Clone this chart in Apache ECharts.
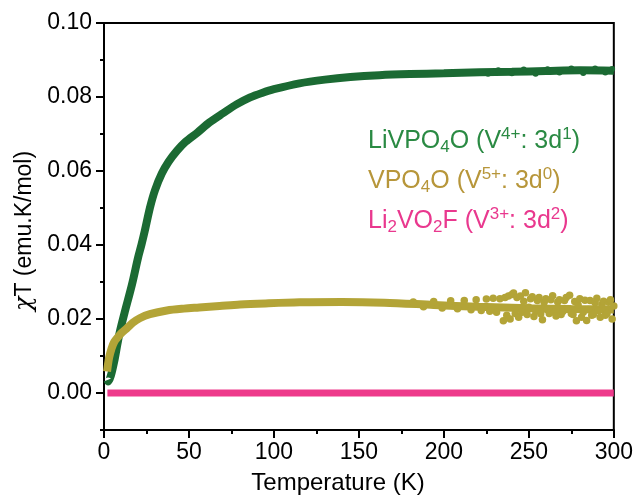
<!DOCTYPE html>
<html>
<head>
<meta charset="utf-8">
<script src="https://cdn.jsdelivr.net/npm/echarts@6/dist/echarts.min.js"></script>
<style>html,body{margin:0;padding:0;background:#fff;}#c{width:636px;height:500px;}</style>
</head>
<body>
<div id="c"></div>
<script>
// ---- data ----
var xTicks = [0, 50, 100, 150, 200, 250, 300];
var yTicks = [0.00, 0.02, 0.04, 0.06, 0.08, 0.10];

// LiVPO4O (V4+: 3d1)  [T (K), chiT]
var liVPO4O = [
  [2,0.0035],[2.5,0.0031],[4,0.0046],[6,0.0085],[8,0.0135],[9.4,0.0167],[12,0.0215],
  [16.5,0.0294],[20,0.0365],[22,0.0400],[24,0.0438],[27,0.0500],[30,0.0548],[34,0.0593],
  [38,0.0625],[43,0.0655],[48,0.0679],[55,0.0704],[62,0.0731],[70,0.0756],[78,0.0780],
  [86,0.0799],[93,0.0811],[100,0.0821],[115,0.0837],[130,0.0847],[145,0.0854],[162,0.0859],
  [180,0.0862],[200,0.0864],[221,0.0867],[240,0.0868],[260,0.0870],[280,0.0872],[300,0.0871]
];
var liVPO4ONoise = [
  [226,0.0863],[232,0.0872],[240,0.0864],[247,0.0874],[254,0.0863],[261,0.0875],
  [268,0.0866],[275,0.0877],[282,0.0865],[289,0.0877],[295,0.0866],[299,0.0876]
];

// VPO4O (V5+: 3d0)
var vPO4O = [
  [1.8,0.0058],[3,0.0095],[4.5,0.0121],[6,0.0138],[8,0.0150],[10.5,0.0163],[13.5,0.0175],
  [17,0.0190],[21,0.0202],[27,0.0213],[37,0.0223],[47,0.0228],[56,0.0231],[68,0.0235],
  [80,0.0239],[95,0.0242],[115,0.0245],[140,0.0246],[165,0.0244],[194,0.0238],
  [220,0.0233],[250,0.0229],[275,0.0227],[300,0.0226]
];
var vPO4ONoise = [
  [182,0.0246],[188,0.0233],[194,0.0247],[199,0.0230],[204,0.0249],[208,0.0228],[212,0.0250],
  [216,0.0225],[219,0.0252],[222,0.0223],[225,0.0254],[227,0.0221],[229,0.0256],[231,0.0218],
  [233,0.0255],[235,0.0195],[236,0.0258],[237,0.0210],[238,0.0262],[239,0.0200],[240,0.0266],
  [241,0.0270],[242,0.0215],[243,0.0258],[244,0.0205],[245,0.0262],[246,0.0218],[247,0.0248],
  [248,0.0271],[249,0.0212],[250,0.0232],[251,0.0255],[252,0.0260],[253,0.0207],[254,0.0222],
  [255,0.0250],[256,0.0258],[257,0.0214],[258,0.0198],[259,0.0245],[260,0.0255],[261,0.0225],
  [262,0.0215],[263,0.0252],[264,0.0263],[265,0.0218],[266,0.0208],[267,0.0246],[268,0.0252],
  [269,0.0212],[270,0.0220],[271,0.0250],[272,0.0258],[273,0.0228],[274,0.0264],[275,0.0215],
  [276,0.0212],[277,0.0247],[278,0.0195],[279,0.0238],[280,0.0255],[281,0.0205],[282,0.0218],
  [283,0.0251],[284,0.0196],[285,0.0226],[286,0.0250],[287,0.0210],[288,0.0212],[289,0.0244],
  [290,0.0256],[291,0.0222],[292,0.0205],[293,0.0240],[294,0.0248],[295,0.0210],[296,0.0215],
  [297,0.0245],[298,0.0252],[299,0.0200],[300,0.0235]
];

// Li2VO2F (V3+: 3d2)
var li2VO2F = [[2,0],[50,0],[100,0],[150,0],[200,0],[250,0],[300,0]];

// ---- chart ----
var FONT = 'Liberation Sans, Arial, sans-serif';
var GREEN = '#1b6a33', OLIVE = '#b3a437', PINK = '#ee3a8b';
var chart = echarts.init(document.getElementById('c'), null, {renderer: 'canvas'});

function legendRich(color) {
  return {
    n: {fontSize: 25, fontFamily: FONT, fill: color, lineHeight: 30},
    sup: {fontSize: 17, fontFamily: FONT, fill: color, lineHeight: 17, verticalAlign: 'top'},
    sub: {fontSize: 17, fontFamily: FONT, fill: color, lineHeight: 16, verticalAlign: 'bottom'}
  };
}

var option = {
  backgroundColor: '#fff',
  animation: false,
  grid: {left: 104, right: 22, top: 23, bottom: 70, show: true, borderColor: '#000', borderWidth: 2, backgroundColor: 'transparent'},
  xAxis: {
    type: 'value', min: 0, max: 300, interval: 50,
    axisLine: {show: true, onZero: false, lineStyle: {color: '#000', width: 2}},
    axisTick: {show: true, inside: false, length: 8, lineStyle: {color: '#000', width: 2}},
    minorTick: {show: true, splitNumber: 2, length: 4, lineStyle: {color: '#000', width: 2}},
    splitLine: {show: false},
    axisLabel: {fontSize: 23, fontFamily: FONT, color: '#000', margin: 11,
      customValues: xTicks, formatter: function (v) { return String(Math.round(v)); }}
  },
  yAxis: [{
    type: 'value', min: -0.01, max: 0.10,
    axisLine: {show: true, onZero: false, lineStyle: {color: '#000', width: 2}},
    axisTick: {show: true, inside: false, length: 8, customValues: yTicks, lineStyle: {color: '#000', width: 2}},
    splitLine: {show: false},
    axisLabel: {fontSize: 23, fontFamily: FONT, color: '#000', margin: 12,
      customValues: yTicks, formatter: function (v) { return (Math.round(v * 100) / 100).toFixed(2); }}
  }, {
    type: 'value', min: -0.01, max: 0.10, interval: 0.01, position: 'left',
    axisLine: {show: false},
    axisTick: {show: true, inside: false, length: 4, lineStyle: {color: '#000', width: 2}},
    splitLine: {show: false},
    axisLabel: {show: false}
  }],
  series: [
    {name: 'Li2VO2F', type: 'line', data: li2VO2F, showSymbol: false, symbol: 'none',
      lineStyle: {color: PINK, width: 7}, z: 2},
    {name: 'LiVPO4O', type: 'line', data: liVPO4O, showSymbol: false, symbol: 'none', smooth: 0.3,
      lineStyle: {color: GREEN, width: 8}, z: 3},
    {name: 'LiVPO4O noise', type: 'scatter', data: liVPO4ONoise, symbolSize: 6,
      itemStyle: {color: GREEN, opacity: 1}, z: 3},
    {name: 'VPO4O', type: 'line', data: vPO4O, showSymbol: false, symbol: 'none', smooth: 0.3,
      lineStyle: {color: OLIVE, width: 8}, z: 4},
    {name: 'VPO4O noise', type: 'scatter', data: vPO4ONoise, symbolSize: 7.5,
      itemStyle: {color: OLIVE, opacity: 1}, z: 4}
  ],
  graphic: [
    {type: 'text', x: 368, y: 141, style: {
      text: '{n|LiVPO}{sub|4}{n|O (V}{sup|4+}{n|: 3d}{sup|1}{n|)}',
      rich: legendRich('#2a8a43'), verticalAlign: 'middle', align: 'left'}},
    {type: 'text', x: 368, y: 181, style: {
      text: '{n|VPO}{sub|4}{n|O (V}{sup|5+}{n|: 3d}{sup|0}{n|)}',
      rich: legendRich('#b7963a'), verticalAlign: 'middle', align: 'left'}},
    {type: 'text', x: 368, y: 221, style: {
      text: '{n|Li}{sub|2}{n|VO}{sub|2}{n|F (V}{sup|3+}{n|: 3d}{sup|2}{n|)}',
      rich: legendRich('#e9388e'), verticalAlign: 'middle', align: 'left'}},
    {type: 'text', x: 338, y: 483, style: {
      text: 'Temperature (K)', fontSize: 24, fontFamily: FONT, fill: '#000',
      align: 'center', verticalAlign: 'middle'}},
    {type: 'text', x: 25, y: 231, rotation: Math.PI / 2, style: {
      text: '{c|χ}{n|T (emu.K/mol)}',
      rich: {
        c: {fontSize: 24, fontFamily: 'DejaVu Serif, serif', fontStyle: 'italic', fill: '#000'},
        n: {fontSize: 23, fontFamily: FONT, fill: '#000'}
      },
      align: 'center', verticalAlign: 'middle'}}
  ]
};
chart.setOption(option);
</script>
</body>
</html>
